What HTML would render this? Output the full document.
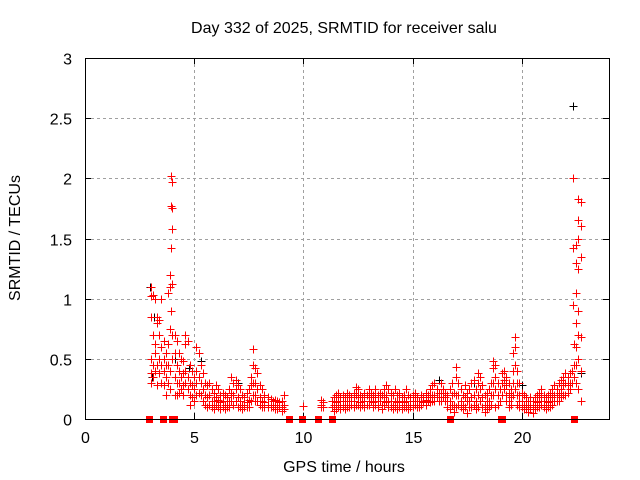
<!DOCTYPE html>
<html><head><meta charset="utf-8"><style>
body{margin:0;background:#fff;}
svg{display:block;font-family:"Liberation Sans",sans-serif;font-size:16px;}
</style></head><body>
<svg id="chart" width="640" height="480">
<text x="344" y="33" text-anchor="middle">Day 332 of 2025, SRMTID for receiver salu</text>
<text x="344" y="472" text-anchor="middle">GPS time / hours</text>
<text transform="translate(20,238) rotate(-90)" text-anchor="middle">SRMTID / TECUs</text>
<g id="grid"></g><g id="ticks" shape-rendering="crispEdges"></g>
<path id="black-series" d="" stroke="#000000" stroke-width="1" fill="none" shape-rendering="crispEdges"/>
<path id="red-series" d="" stroke="#ff0000" stroke-width="1" fill="none" shape-rendering="crispEdges"/>
<path id="gap-series" d="" fill="#ff0000" stroke="none" shape-rendering="crispEdges"/>
<rect x="85.5" y="58.5" width="524" height="361" fill="none" stroke="#000" stroke-width="1" shape-rendering="crispEdges"/>
</svg>
<script>
const xTicks=[0,5,10,15,20];
const yTicks=[0,0.5,1,1.5,2,2.5,3];
const yTickLabels=["0","0.5","1","1.5","2","2.5","3"];
const gapTimes=[2.94,3.58,4.0,4.06,9.36,9.95,10.69,11.33,16.7,19.05,19.12,22.39];
const redTimes=[3.0,3.1,3.2,3.3,3.4,3.5,3.6,3.7,3.8,3.9,3.95,4.0,4.1,4.2,4.3,4.4,4.5,4.6,4.7,4.8,4.9,5.0,5.1,5.2,5.3,5.4,5.5,5.6,5.7,5.8,5.9,6.0,6.1,6.2,6.3,6.4,6.5,6.6,6.7,6.8,6.9,7.0,7.1,7.2,7.3,7.4,7.5,7.6,7.7,7.8,7.9,8.0,8.1,8.2,8.4,8.5,8.6,8.7,8.8,8.9,9.0,9.1,10.0,10.8,10.9,11.3,11.4,11.5,11.6,11.7,11.8,11.9,12.0,12.1,12.2,12.3,12.4,12.5,12.6,12.7,12.8,12.9,13.0,13.1,13.2,13.3,13.4,13.5,13.6,13.7,13.8,13.9,14.0,14.1,14.2,14.3,14.4,14.5,14.6,14.7,14.8,14.9,15.0,15.1,15.2,15.3,15.4,15.5,15.6,15.7,15.8,15.9,16.0,16.1,16.2,16.3,16.4,16.5,16.6,16.7,16.8,16.9,17.0,17.1,17.2,17.3,17.4,17.5,17.6,17.7,17.8,17.9,18.0,18.1,18.2,18.3,18.4,18.5,18.6,18.7,18.8,18.9,19.0,19.1,19.2,19.3,19.4,19.5,19.6,19.7,19.8,19.9,20.0,20.1,20.2,20.3,20.4,20.5,20.6,20.7,20.8,20.9,21.0,21.1,21.2,21.3,21.4,21.5,21.6,21.7,21.8,21.9,22.0,22.1,22.2,22.3,22.35,22.4,22.5,22.6,22.7];
const redVals=[[1.1,1.02,0.85,0.5,0.38,0.3],[1.03,0.7,0.45,0.35],[1.0,0.62,0.55,0.4],[0.85,0.8,0.45,0.28],[0.82,0.7,0.5,0.38],[1.0,0.6,0.45,0.3],[0.65,0.5,0.4,0.28],[0.55,0.45,0.35,0.2],[1.05,0.62,0.45,0.3],[1.2,1.1,0.75,0.4,0.25],[2.02,1.77,1.42,0.9],[1.97,1.75,1.58,1.12,0.7,0.5],[0.7,0.55,0.35,0.2],[0.65,0.45,0.3,0.2],[0.55,0.4,0.3,0.22],[0.5,0.35,0.25],[0.48,0.38,0.28,0.2],[0.7,0.62,0.4,0.3],[0.65,0.35,0.25],[0.45,0.3,0.2,0.12],[0.4,0.28,0.18],[0.35,0.25,0.15],[0.6,0.4,0.3,0.2],[0.55,0.35,0.22],[0.45,0.3,0.2],[0.38,0.25,0.15],[0.3,0.2,0.12],[0.28,0.18,0.1],[0.3,0.2,0.12],[0.25,0.15,0.1],[0.22,0.15,0.08],[0.28,0.18,0.12],[0.25,0.16,0.1],[0.2,0.14,0.08],[0.22,0.15,0.1],[0.2,0.12,0.08],[0.18,0.12,0.1],[0.25,0.15,0.1],[0.35,0.22,0.15],[0.3,0.2,0.12],[0.32,0.25,0.15],[0.28,0.18,0.1],[0.25,0.15,0.1],[0.2,0.12,0.08],[0.18,0.12,0.1],[0.22,0.14,0.1],[0.25,0.16,0.1],[0.35,0.28,0.15],[0.58,0.45,0.3,0.2],[0.42,0.3,0.2,0.15],[0.38,0.25,0.15],[0.28,0.18,0.12],[0.25,0.15,0.1],[0.2,0.14,0.1],[0.18,0.12,0.1],[0.17,0.12,0.1],[0.15,0.12,0.1],[0.16,0.12,0.08],[0.15,0.1,0.08],[0.14,0.1],[0.15,0.1,0.07],[0.2,0.12,0.08],[0.11],[0.16,0.12,0.1],[0.14,0.1],[0.15,0.1],[0.18,0.12,0.07],[0.2,0.14,0.08],[0.22,0.15,0.1],[0.18,0.12,0.08],[0.2,0.15,0.1],[0.18,0.12,0.08],[0.22,0.15,0.1],[0.2,0.15,0.1],[0.18,0.12],[0.22,0.15,0.1],[0.27,0.2,0.12],[0.25,0.18,0.12],[0.2,0.14,0.1],[0.18,0.12],[0.22,0.15,0.1],[0.2,0.12],[0.25,0.18,0.12],[0.22,0.15],[0.2,0.14,0.1],[0.25,0.18,0.12],[0.2,0.15,0.1],[0.22,0.15],[0.2,0.12,0.08],[0.25,0.18,0.12],[0.28,0.2,0.14],[0.25,0.15,0.1],[0.22,0.15,0.1],[0.2,0.12,0.08],[0.25,0.15,0.1],[0.2,0.14,0.08],[0.22,0.15,0.1],[0.18,0.12,0.08],[0.2,0.14,0.1],[0.25,0.15,0.1],[0.2,0.12,0.08],[0.18,0.12,0.1],[0.2,0.15,0.1],[0.22,0.15,0.12],[0.18,0.12,0.1],[0.15,0.12,0.1],[0.2,0.15,0.12],[0.18,0.14],[0.22,0.16,0.12],[0.2,0.15],[0.25,0.18,0.14],[0.28,0.2,0.15],[0.3,0.2,0.15],[0.25,0.18],[0.22,0.18,0.15],[0.3,0.22,0.15],[0.25,0.18],[0.22,0.18,0.15],[0.2,0.15,0.1],[0.25,0.15,0.08],[0.3,0.2,0.12],[0.22,0.12,0.06],[0.43,0.35,0.2,0.1],[0.3,0.2,0.12],[0.25,0.15,0.1],[0.2,0.12,0.08],[0.28,0.18,0.1],[0.22,0.15,0.05],[0.25,0.15,0.1],[0.3,0.18,0.1],[0.32,0.2,0.12],[0.25,0.15,0.08],[0.38,0.3,0.2,0.1],[0.35,0.25,0.15],[0.28,0.18,0.1],[0.2,0.12,0.06],[0.22,0.15,0.08],[0.25,0.15,0.1],[0.3,0.2,0.12],[0.48,0.42,0.3,0.2],[0.45,0.35,0.25,0.1],[0.3,0.2,0.12],[0.25,0.15],[0.38,0.3,0.2],[0.4,0.32,0.25],[0.35,0.28,0.2,0.15],[0.3,0.22,0.15,0.1],[0.25,0.18,0.12],[0.55,0.4,0.3,0.2],[0.68,0.6,0.45,0.25],[0.4,0.3,0.2,0.12],[0.3,0.2,0.15,0.1],[0.22,0.15,0.1],[0.2,0.12,0.08],[0.18,0.12,0.08],[0.15,0.1,0.06],[0.18,0.12,0.08],[0.15,0.1,0.05],[0.18,0.12,0.08],[0.2,0.14,0.1],[0.22,0.15,0.1],[0.25,0.18,0.12],[0.2,0.15,0.1],[0.18,0.12,0.08],[0.2,0.14,0.1],[0.22,0.15,0.1],[0.25,0.18,0.12],[0.28,0.2,0.15],[0.25,0.2,0.15],[0.3,0.22,0.15],[0.32,0.25,0.18],[0.35,0.28,0.2],[0.38,0.3,0.2],[0.35,0.28,0.22],[0.38,0.3,0.25],[0.4,0.3],[2.0,1.42,0.95],[0.62,0.45,0.35],[1.45,1.3,1.05,0.8,0.6,0.45,0.3],[1.83,1.65,1.5,1.25,0.9,0.7,0.5,0.25],[1.8,1.6,1.35,0.68,0.4,0.15]];
const blackTimes=[2.98,3.05,3.15,4.1,4.75,5.3,7.0,7.9,12.6,16.2,17.8,18.3,20.0,22.35,22.7];
const blackVals=[1.1,0.35,0.85,0.5,0.42,0.48,0.3,0.25,0.18,0.32,0.3,0.2,0.28,2.6,0.38];

const NS="http://www.w3.org/2000/svg";
const X0=85,X1=609,Y0=419,Y1=58,XMAX=24,YMAX=3;
function sx(t){return X0+(X1-X0)*t/XMAX;}
function sy(v){return Y0-(Y0-Y1)*v/YMAX;}
function mk(tag,attrs,parent){const e=document.createElementNS(NS,tag);for(const k in attrs)e.setAttribute(k,attrs[k]);parent.appendChild(e);return e;}
const gridG=document.getElementById('grid'),ticksG=document.getElementById('ticks');
xTicks.forEach(function(t){
  const x=Math.round(sx(t))+0.5;
  if(t>0){const g=mk('line',{x1:x,y1:Y1,x2:x,y2:Y0,stroke:'#a0a0a0','stroke-dasharray':'3,3'},gridG);
  
  }
  mk('line',{x1:x,y1:Y0,x2:x,y2:Y0-6,stroke:'#000'},ticksG);
  mk('line',{x1:x,y1:Y1,x2:x,y2:Y1+6,stroke:'#000'},ticksG);
  const l=mk('text',{x:x,y:443,'text-anchor':'middle'},ticksG);l.textContent=String(t);
  
  
});
yTicks.forEach(function(v,i){
  const y=Math.round(sy(v))+0.5;
  if(v>0&&v<YMAX){const g=mk('line',{x1:X0,y1:y,x2:X1,y2:y,stroke:'#a0a0a0','stroke-dasharray':'3,3'},gridG);
  
  }
  mk('line',{x1:X0,y1:y,x2:X0+6,y2:y,stroke:'#000'},ticksG);
  mk('line',{x1:X1,y1:y,x2:X1-6,y2:y,stroke:'#000'},ticksG);
  const l=mk('text',{x:72,y:y+6,'text-anchor':'end'},ticksG);l.textContent=yTickLabels[i];
  
  
});
function plusD(t,v){
  const x=Math.round(sx(t))+0.5,y=Math.round(sy(v))+0.5;
  return 'M'+(x-4)+' '+y+'H'+(x+4)+'M'+x+' '+(y-4)+'V'+(y+4);
}
let bd='';
blackTimes.forEach(function(t,i){bd+=plusD(t,blackVals[i]);});
document.getElementById('black-series').setAttribute('d',bd);
let rd='';
redTimes.forEach(function(t,i){redVals[i].forEach(function(v){rd+=plusD(t,v);});});
document.getElementById('red-series').setAttribute('d',rd);
let gd='';
gapTimes.forEach(function(t){const x=Math.round(sx(t));gd+='M'+(x-3)+' '+(Y0-3)+'h7v7h-7z';});
document.getElementById('gap-series').setAttribute('d',gd);
</script>
</body></html>
